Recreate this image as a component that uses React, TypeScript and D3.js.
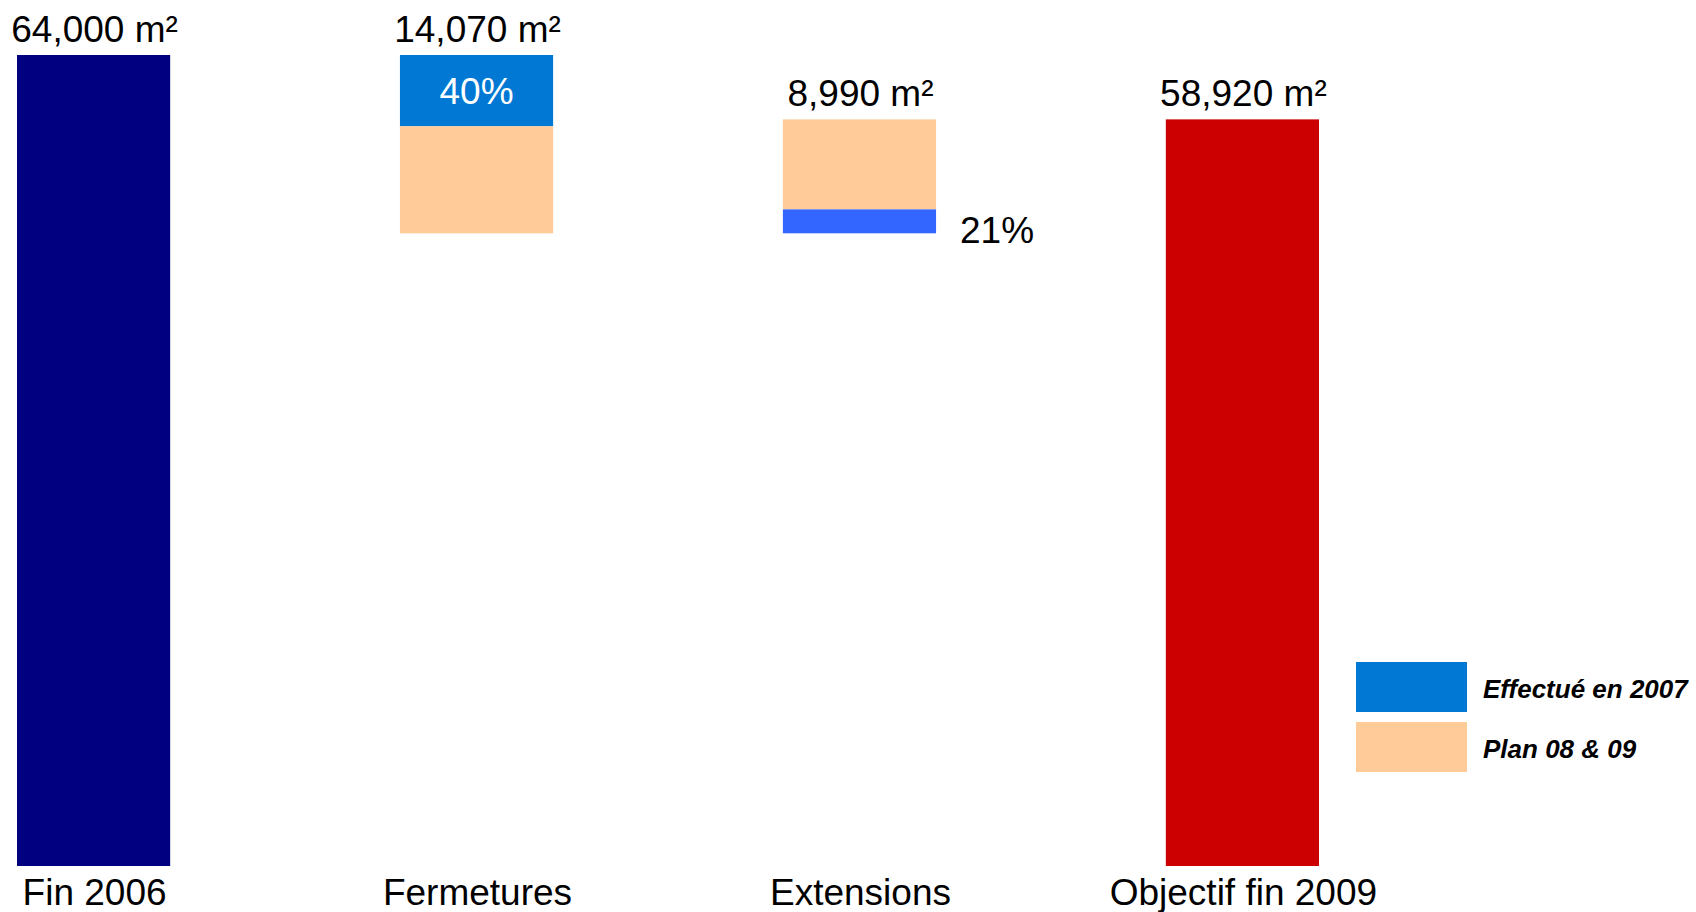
import * as d3 from 'd3';

const W = 1696, H = 912;

// chart data
const categories = ['Fin 2006', 'Fermetures', 'Extensions', 'Objectif fin 2009'];
const amounts = [64000, 14070, 8990, 58920];
const kinds = ['total', 'down', 'up', 'total'];
const doneShare = [0, 0.4, 0.21, 0];
const valueLabels = ['64,000 m²', '14,070 m²', '8,990 m²', '58,920 m²'];
const shareLabels = ['', '40%', '21%', ''];
const legendLabels = ['Effectué en 2007', 'Plan 08 & 09'];

const colors = {
  start: '#000080',
  done: '#0078D4',
  doneExt: '#3366FF',
  plan: '#FFCC99',
  end: '#CC0000',
};

const font = '"Liberation Sans", Arial, sans-serif';

export default function App() {
  const x = d3.scaleBand<string>().domain(categories).range([17, 1319]).paddingInner(0.6).paddingOuter(0);
  const y = d3.scaleLinear().domain([0, 64000]).range([866, 55]);

  // waterfall segments
  let level = 0;
  const bars = categories.map((c, i) => {
    const v = amounts[i];
    let lo = 0, hi = v;
    if (kinds[i] === 'down') { hi = level; lo = level - v; level = lo; }
    else if (kinds[i] === 'up') { lo = level; hi = level + v; level = hi; }
    else { lo = 0; hi = v; level = v; }
    return { c, i, lo, hi, v, kind: kinds[i] };
  });

  const bw = x.bandwidth();

  return (
    <div style={{ position: 'fixed', left: 0, top: 0, width: W, height: H, background: '#fff' }}>
      <svg width={W} height={H} style={{ display: 'block' }} fontFamily={font}>
        {bars.map(b => {
          const x0 = x(b.c)!;
          const cx = x0 + bw / 2;
          const segs: JSX.Element[] = [];
          if (b.kind === 'total') {
            segs.push(
              <rect key="t" x={x0} y={y(b.hi)} width={bw} height={y(b.lo) - y(b.hi)}
                fill={b.i === 0 ? colors.start : colors.end} />
            );
          } else if (b.kind === 'down') {
            const split = b.hi - b.v * doneShare[b.i];
            segs.push(<rect key="d" x={x0} y={y(b.hi)} width={bw} height={y(split) - y(b.hi)} fill={colors.done} />);
            segs.push(<rect key="p" x={x0} y={y(split)} width={bw} height={y(b.lo) - y(split)} fill={colors.plan} />);
            segs.push(
              <text key="s" x={cx} y={(y(b.hi) + y(split)) / 2 + 13} textAnchor="middle" fontSize={37} fill="#fff">
                {shareLabels[b.i]}
              </text>
            );
          } else {
            const split = b.lo + b.v * doneShare[b.i];
            segs.push(<rect key="p" x={x0} y={y(b.hi)} width={bw} height={y(split) - y(b.hi)} fill={colors.plan} />);
            segs.push(<rect key="d" x={x0} y={y(split)} width={bw} height={y(b.lo) - y(split)} fill={colors.doneExt} />);
            segs.push(
              <text key="s" x={x0 + bw + 24} y={y(b.lo) + 10} fontSize={37} fill="#000">
                {shareLabels[b.i]}
              </text>
            );
          }
          return (
            <g key={b.c}>
              {segs}
              <text x={cx + 1} y={y(b.hi) - 13} textAnchor="middle" fontSize={37} fill="#000">
                {valueLabels[b.i]}
              </text>
              <text x={cx + 1} y={y(0) + 39} textAnchor="middle" fontSize={37} fill="#000">
                {b.c}
              </text>
            </g>
          );
        })}

        {legendLabels.map((l, i) => (
          <g key={l} transform={`translate(1356,${662 + i * 60})`}>
            <rect width={111} height={50} fill={i === 0 ? colors.done : colors.plan} />
            <text x={127} y={36} fontSize={26} fontWeight="bold" fontStyle="italic" fill="#000">{l}</text>
          </g>
        ))}
      </svg>
    </div>
  );
}
